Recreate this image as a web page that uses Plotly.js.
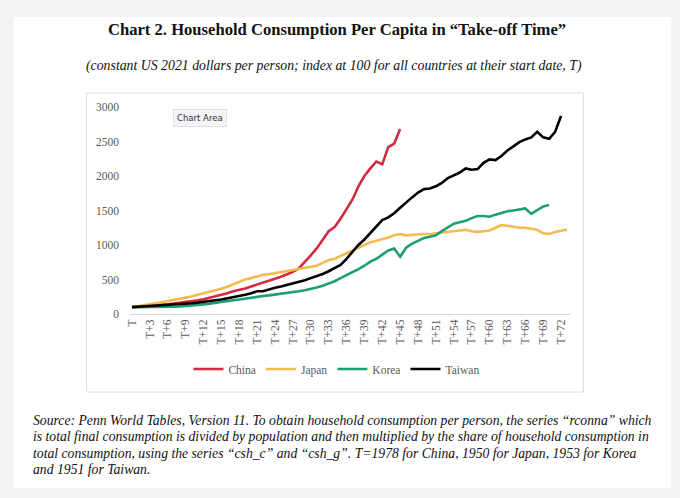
<!DOCTYPE html>
<html>
<head>
<meta charset="utf-8">
<script src="https://cdn.plot.ly/plotly-3.0.1.min.js"></script>
<style>
  html, body { margin: 0; padding: 0; background: #f2f2f2; }
  #chart { width: 680px; height: 498px; }
</style>
</head>
<body>
<div id="chart"></div>
<script>
// index positions T, T+1, ... T+73
var categories = [];
for (var i = 0; i <= 73; i++) categories.push(i === 0 ? 'T' : 'T+' + i);

var tick_labels = ['T', 'T+3', 'T+6', 'T+9', 'T+12', 'T+15', 'T+18', 'T+21', 'T+24', 'T+27',
    'T+30', 'T+33', 'T+36', 'T+39', 'T+42', 'T+45', 'T+48', 'T+51', 'T+54', 'T+57',
    'T+60', 'T+63', 'T+66', 'T+69', 'T+72'];

// China T=1978 (T..T+45)
var china = [100, 105, 110, 118, 125, 132, 140, 150, 160, 175,
    185, 200, 215, 235, 250, 270, 300, 330, 345, 370,
    400, 425, 450, 480, 510, 540, 570, 610, 660, 750,
    850, 950, 1070, 1200, 1260, 1380, 1520, 1660, 1850, 2000,
    2110, 2210, 2170, 2420, 2470, 2680];

// Japan T=1950 (T..T+73)
var japan = [100, 110, 125, 140, 155, 170, 185, 200, 215, 235,
    255, 280, 300, 320, 340, 365, 395, 430, 465, 500,
    520, 540, 570, 575, 590, 600, 615, 630, 650, 670,
    680, 700, 740, 780, 800, 840, 880, 920, 960, 1000,
    1040, 1060, 1080, 1110, 1140, 1160, 1140, 1150, 1155, 1160,
    1160, 1170, 1190, 1200, 1210, 1220, 1220, 1200, 1190, 1200,
    1210, 1250, 1290, 1280, 1260, 1250, 1250, 1240, 1220, 1170,
    1160, 1190, 1210, 1225];

// Korea T=1953 (T..T+70)
var korea = [100, 100, 100, 98, 100, 102, 105, 105, 110, 115,
    120, 130, 140, 150, 165, 180, 190, 200, 210, 225,
    240, 250, 260, 270, 280, 290, 310, 320, 330, 345,
    360, 385, 410, 440, 475, 520, 560, 610, 650, 700,
    760, 800, 860, 920, 950, 830, 960, 1020, 1060, 1100,
    1120, 1140, 1200, 1260, 1310, 1330, 1350, 1390, 1420, 1420,
    1410, 1440, 1470, 1490, 1500, 1520, 1530, 1450, 1500, 1560,
    1580];

// Taiwan T=1951 (T..T+72)
var taiwan = [100, 105, 110, 115, 115, 120, 125, 130, 135, 145,
    155, 165, 180, 190, 200, 210, 225, 240, 260, 280,
    300, 330, 330, 360, 380, 400, 420, 440, 470, 490,
    520, 545, 580, 620, 660, 710, 800, 900, 1000, 1080,
    1170, 1260, 1360, 1400, 1460, 1540, 1620, 1690, 1760, 1810,
    1820, 1850, 1900, 1970, 2010, 2050, 2110, 2090, 2100, 2190,
    2240, 2230, 2290, 2370, 2430, 2490, 2530, 2560, 2640, 2560,
    2540, 2640, 2870];

var footnote_lines = [
    'Source: Penn World Tables, Version 11. To obtain household consumption per person, the series “rconna” which',
    'is total final consumption is divided by population and then multiplied by the share of household consumption in',
    'total consumption, using the series “csh_c” and “csh_g”. T=1978 for China, 1950 for Japan, 1953 for Korea',
    'and 1951 for Taiwan.'
];

function make_trace(name, values, color) {
    return {
        x: categories.slice(0, values.length),
        y: values,
        mode: 'lines',
        type: 'scatter',
        name: name,
        line: {color: color, width: 2.6},
        hoverinfo: 'skip'
    };
}

var data = [
    make_trace('China', china, '#d22a3f'),
    make_trace('Japan', japan, '#f3bb4f'),
    make_trace('Korea', korea, '#1f9e6f'),
    make_trace('Taiwan', taiwan, '#000000')
];

// plot area in page pixels
var PL = 128.5, PR = 569.6, PT = 107, PB = 314;
function px(x) { return (x - PL) / (PR - PL); }
function py(y) { return (PB - y) / (PB - PT); }

var serif = 'Liberation Serif, Times New Roman, serif';

var annotations = [
    {text: '<b>Chart 2. Household Consumption Per Capita in “Take-off Time”</b>',
     xref: 'paper', yref: 'paper', x: px(337), y: py(29),
     xanchor: 'center', yanchor: 'middle', showarrow: false,
     font: {family: serif, size: 16.6, color: '#111111'}},
    {text: '<i>(constant US 2021 dollars per person; index at 100 for all countries at their start date, T)</i>',
     xref: 'paper', yref: 'paper', x: px(334), y: py(66),
     xanchor: 'center', yanchor: 'middle', showarrow: false,
     font: {family: serif, size: 13.8, color: '#111111'}},
    {text: 'Chart Area',
     xref: 'paper', yref: 'paper', x: px(200), y: py(118),
     xanchor: 'center', yanchor: 'middle', showarrow: false,
     bgcolor: '#f4f4f4', bordercolor: '#e2e2e2', borderwidth: 1, borderpad: 3,
     font: {family: 'DejaVu Sans, sans-serif', size: 8.5, color: '#333333'}}
];

// footnote, one annotation per line to keep the line spacing tight
var foot_y = [420, 436.5, 453, 469];
footnote_lines.forEach(function(line, k) {
    annotations.push({
        text: '<i>' + line + '</i>',
        xref: 'paper', yref: 'paper', x: px(30), y: py(foot_y[k]),
        xanchor: 'left', yanchor: 'middle', align: 'left', showarrow: false,
        font: {family: serif, size: 13.7, color: '#111111'}
    });
});

var layout = {
    width: 680,
    height: 498,
    margin: {l: PL, r: 680 - PR, t: PT, b: 498 - PB, pad: 0},
    paper_bgcolor: '#f2f2f2',
    plot_bgcolor: 'rgba(0,0,0,0)',
    font: {family: serif, color: '#595959'},
    showlegend: true,
    legend: {
        orientation: 'h',
        x: px(336), xanchor: 'center',
        y: py(369), yanchor: 'middle',
        font: {family: serif, size: 11.5, color: '#595959'},
        bgcolor: 'rgba(0,0,0,0)',
        tracegroupgap: 0
    },
    xaxis: {
        type: 'category',
        categoryorder: 'array',
        categoryarray: categories,
        range: [-0.5, 73.5],
        tickmode: 'array',
        tickvals: tick_labels,
        ticktext: tick_labels,
        tickangle: -90,
        tickfont: {family: serif, size: 11.5, color: '#595959'},
        showgrid: false,
        zeroline: false,
        showline: true,
        linecolor: '#d9d9d9',
        linewidth: 1,
        ticks: '',
        fixedrange: true
    },
    yaxis: {
        range: [0, 3000],
        tickvals: [0, 500, 1000, 1500, 2000, 2500, 3000],
        tickfont: {family: serif, size: 11.5, color: '#595959'},
        showgrid: false,
        zeroline: false,
        showline: false,
        ticks: '',
        ticklabelstandoff: 9,
        fixedrange: true
    },
    shapes: [
        // white card
        {type: 'rect', xref: 'paper', yref: 'paper', layer: 'below',
         x0: px(13), x1: px(671), y0: py(488), y1: py(17),
         fillcolor: '#ffffff', line: {width: 0}},
        // chart area border
        {type: 'rect', xref: 'paper', yref: 'paper', layer: 'below',
         x0: px(86), x1: px(583), y0: py(392), y1: py(93),
         fillcolor: 'rgba(0,0,0,0)', line: {color: '#dcdcdc', width: 1}}
    ],
    annotations: annotations
};

Plotly.newPlot(document.getElementById('chart'), data, layout, {displayModeBar: false, staticPlot: true});
</script>
</body>
</html>
